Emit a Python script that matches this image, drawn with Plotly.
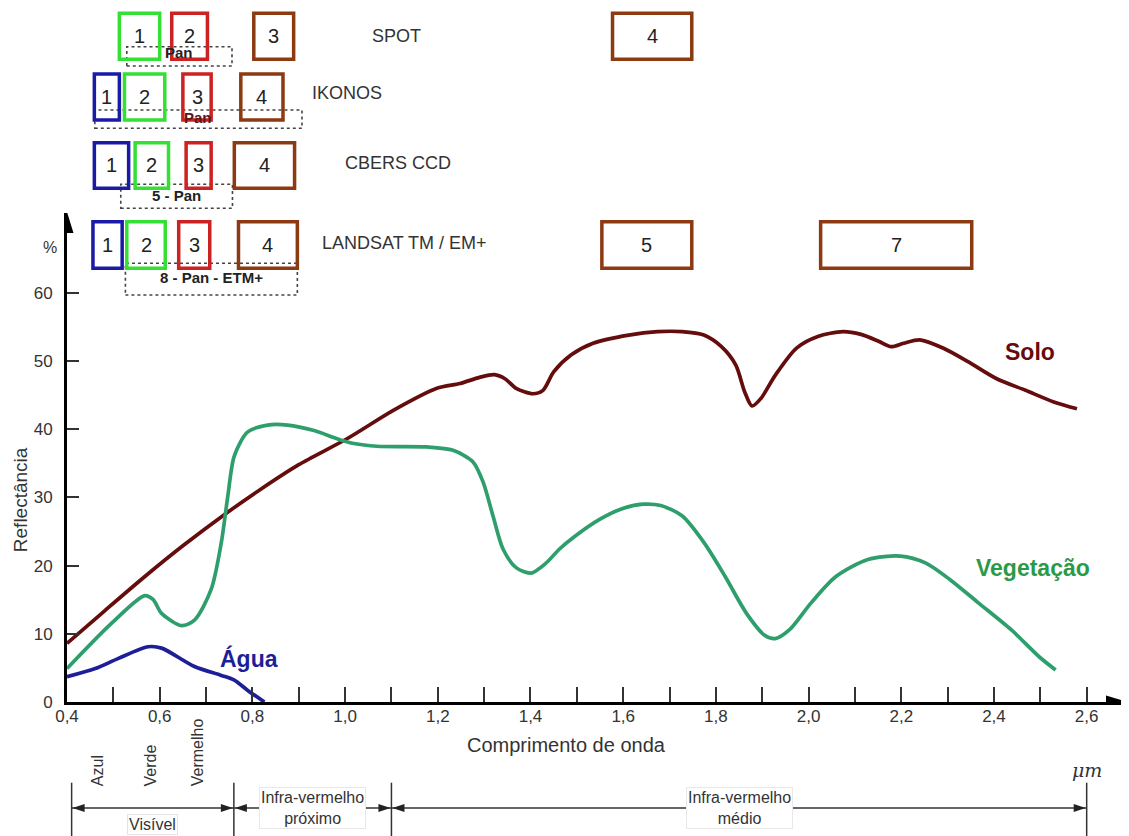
import plotly.graph_objects as go

# ---------------- data ----------------
SOLO_WL = [0.40, 0.48, 0.568, 0.65, 0.74, 0.818, 0.90, 1.004, 1.105, 1.198, 1.248, 1.29, 1.322, 1.345,
           1.369, 1.405, 1.427, 1.45, 1.488, 1.535, 1.612, 1.674, 1.727, 1.774, 1.812, 1.843, 1.862,
           1.878, 1.897, 1.928, 1.974, 2.02, 2.074, 2.113, 2.151, 2.178, 2.205, 2.24, 2.29, 2.344,
           2.406, 2.468, 2.529, 2.579]
SOLO_R = [8.6, 13.3, 18.4, 22.9, 27.5, 31.2, 34.8, 38.6, 42.8, 46.0, 46.7, 47.6, 48.0, 47.4,
          46.0, 45.2, 45.7, 48.4, 50.9, 52.6, 53.8, 54.3, 54.3, 53.8, 52.1, 49.4, 45.5,
          43.4, 44.5, 47.9, 51.9, 53.6, 54.3, 53.9, 52.9, 52.1, 52.6, 53.1, 51.9, 49.9,
          47.4, 45.7, 44.0, 43.0]

VEG_WL = [0.40, 0.497, 0.568, 0.586, 0.604, 0.647, 0.675, 0.711, 0.733, 0.747, 0.761, 0.79, 0.833,
          0.876, 0.933, 0.983, 1.019, 1.069, 1.176, 1.233, 1.276, 1.298, 1.319, 1.341, 1.369, 1.401,
          1.434, 1.462, 1.496, 1.55, 1.596, 1.643, 1.681, 1.727, 1.774, 1.82, 1.866, 1.905, 1.928,
          1.959, 2.005, 2.059, 2.128, 2.198, 2.252, 2.306, 2.367, 2.437, 2.498, 2.533]
VEG_R = [4.9, 11.6, 15.6, 15.0, 13.0, 11.2, 12.0, 16.5, 23.4, 30.2, 36.1, 39.6, 40.6,
         40.6, 39.8, 38.6, 37.9, 37.5, 37.4, 36.9, 35.2, 32.2, 27.3, 22.4, 19.7, 18.9,
         20.4, 22.4, 24.3, 26.8, 28.3, 29.0, 28.8, 27.3, 23.4, 18.4, 13.0, 9.8, 9.3,
         10.6, 14.5, 18.4, 20.9, 21.4, 20.4, 17.9, 14.5, 10.6, 6.6, 4.7]

AGUA_WL = [0.40, 0.461, 0.511, 0.575, 0.604, 0.675, 0.733, 0.761, 0.79, 0.826]
AGUA_R = [3.7, 4.9, 6.4, 8.1, 7.9, 5.2, 3.9, 3.2, 1.7, 0.0]

Y_TICKS = [0, 10, 20, 30, 40, 50, 60]

# sensor bands (wavelength ranges in micrometres)
SENSORS = ["SPOT", "IKONOS", "CBERS CCD", "LANDSAT TM / EM+"]
SPOT_BANDS = ["1", "2", "3", "4"]
SPOT_START = [0.513, 0.626, 0.803, 1.577]
SPOT_END = [0.600, 0.703, 0.889, 1.748]
SPOT_PAN = [0.529, 0.756]
SPOT_PAN_LABEL = "Pan"

IKONOS_BANDS = ["1", "2", "3", "4"]
IKONOS_START = [0.459, 0.524, 0.650, 0.775]
IKONOS_END = [0.513, 0.611, 0.711, 0.866]
IKONOS_PAN = [0.460, 0.907]
IKONOS_PAN_LABEL = "Pan"

CBERS_BANDS = ["1", "2", "3", "4"]
CBERS_START = [0.459, 0.547, 0.657, 0.761]
CBERS_END = [0.533, 0.619, 0.711, 0.891]
CBERS_PAN = [0.516, 0.757]
CBERS_PAN_LABEL = "5 - Pan"

LANDSAT_BANDS = ["1", "2", "3", "4", "5", "7"]
LANDSAT_START = [0.456, 0.529, 0.641, 0.770, 1.554, 2.026]
LANDSAT_END = [0.519, 0.612, 0.708, 0.897, 1.748, 2.352]
LANDSAT_PAN = [0.526, 0.897]
LANDSAT_PAN_LABEL = "8 - Pan - ETM+"

# spectral regions
REGION_EDGES = [0.41, 0.76, 1.10, 2.60]
REGION_NAMES = ["Visível", "Infra-vermelho<br>próximo", "Infra-vermelho<br>médio"]
VIS_NAMES = ["Azul", "Verde", "Vermelho"]
VIS_POS = [0.466, 0.58, 0.681]

# ---------------- styles ----------------
FONT = "Arial, 'Liberation Sans', sans-serif"
C_SOLO = "#650c0c"
C_VEG = "#2e9e6c"
C_VEG_TXT = "#2a9a48"
C_AGUA = "#1c1f98"
C_BLUE = "#1a1aa6"
C_GREEN = "#33e033"
C_RED = "#cc2222"
C_BROWN = "#8b3a12"
TXT = "#333333"

SPOT_COLORS = [C_GREEN, C_RED, C_BROWN, C_BROWN]
IKONOS_COLORS = [C_BLUE, C_GREEN, C_RED, C_BROWN]
CBERS_COLORS = [C_BLUE, C_GREEN, C_RED, C_BROWN]
LANDSAT_COLORS = [C_BLUE, C_GREEN, C_RED, C_BROWN, C_BROWN, C_BROWN]

# layout rows (paper coordinates)
ROWS = [
    dict(box=(1.3143, 1.4084), pan=(1.3006, 1.3401), pan_txt=1.3272, lab=(0.311, 1.362, "center"), pan_col="#2a2020"),
    dict(box=(1.1902, 1.2843), pan=(1.1732, 1.2106), pan_txt=1.1957, lab=(0.264, 1.246, "center"), pan_col="#5a1818"),
    dict(box=(1.0505, 1.1438), pan=(1.0096, 1.0587), pan_txt=1.0368, lab=(0.3125, 1.1016, "center"), pan_col="#222222"),
    dict(box=(0.8869, 0.9822), pan=(0.8323, 0.8971), pan_txt=0.8685, lab=(0.2387, 0.9387, "left"), pan_col="#222222"),
]
ROW_DATA = [
    (SPOT_BANDS, SPOT_START, SPOT_END, SPOT_COLORS, SPOT_PAN, SPOT_PAN_LABEL),
    (IKONOS_BANDS, IKONOS_START, IKONOS_END, IKONOS_COLORS, IKONOS_PAN, IKONOS_PAN_LABEL),
    (CBERS_BANDS, CBERS_START, CBERS_END, CBERS_COLORS, CBERS_PAN, CBERS_PAN_LABEL),
    (LANDSAT_BANDS, LANDSAT_START, LANDSAT_END, LANDSAT_COLORS, LANDSAT_PAN, LANDSAT_PAN_LABEL),
]

X_MAX = 2.687
Y_MAX = 71.7

fig = go.Figure()
for wl, r, col in [(SOLO_WL, SOLO_R, C_SOLO), (VEG_WL, VEG_R, C_VEG), (AGUA_WL, AGUA_R, C_AGUA)]:
    fig.add_trace(go.Scatter(x=wl, y=r, mode="lines", hoverinfo="skip",
                             line=dict(color=col, width=3.7, shape="spline", smoothing=0.8)))

shapes = []
annots = []


def note(**kw):
    kw.setdefault("showarrow", False)
    kw.setdefault("xanchor", "center")
    kw.setdefault("yanchor", "middle")
    annots.append(kw)


# sensor rows
for (bands, st, en, cols, pan, pan_lab), row in zip(ROW_DATA, ROWS):
    y0, y1 = row["box"]
    shapes.append(dict(type="rect", xref="x", yref="paper", x0=pan[0], x1=pan[1],
                       y0=row["pan"][0], y1=row["pan"][1],
                       line=dict(color="#444", width=1.6, dash="dot"), layer="above"))
    for b, s, e, c in zip(bands, st, en, cols):
        shapes.append(dict(type="rect", xref="x", yref="paper", x0=s, x1=e, y0=y0, y1=y1,
                           line=dict(color=c, width=3.5), layer="above"))
        note(x=(s + e) / 2, y=(y0 + y1) / 2, xref="x", yref="paper", text=b,
             font=dict(size=20, color="#222", family=FONT))
    note(x=(pan[0] + pan[1]) / 2, y=row["pan_txt"], xref="x", yref="paper",
         text="<b>%s</b>" % pan_lab, font=dict(size=15, color=row["pan_col"], family=FONT))

for name, row in zip(SENSORS, ROWS):
    lx, ly, anc = row["lab"]
    note(x=lx, y=ly, xref="paper", yref="paper", text=name, xanchor=anc,
         font=dict(size=18, color=TXT, family=FONT))

# axis arrowheads
shapes.append(dict(type="path", xref="x", yref="y", xsizemode="pixel", ysizemode="pixel",
                   xanchor=X_MAX, yanchor=0, path="M 1,0 L -21,6.5 L -21,-6.5 Z",
                   fillcolor="black", line=dict(width=0)))
shapes.append(dict(type="path", xref="x", yref="y", xsizemode="pixel", ysizemode="pixel",
                   xanchor=0.4, yanchor=Y_MAX, path="M 0,1 L -6.5,-20 L 6.5,-20 Z",
                   fillcolor="black", line=dict(width=0)))

# curve labels
note(x=2.478, y=51.3, xref="x", yref="y", text="<b>Solo</b>", font=dict(size=23, color=C_SOLO, family=FONT))
note(x=2.485, y=19.6, xref="x", yref="y", text="<b>Vegetação</b>", font=dict(size=23, color=C_VEG_TXT, family=FONT))
note(x=0.793, y=6.4, xref="x", yref="y", text="<b>Água</b>", font=dict(size=23, color=C_AGUA, family=FONT))

# axis titles and units
note(x=-0.0443, y=29.6, xref="paper", yref="y", text="Reflectância", textangle=-90,
     font=dict(size=19, color=TXT, family=FONT))
note(x=-0.016, y=66.7, xref="paper", yref="y", text="%", font=dict(size=16, color=TXT, family=FONT))
note(x=1.477, y=-0.088, xref="x", yref="paper", text="Comprimento de onda",
     font=dict(size=20, color=TXT, family=FONT))
note(x=2.60, y=-0.139, xref="x", yref="paper", text="<i>μm</i>",
     font=dict(size=19, color=TXT, family="'DejaVu Serif', 'Liberation Serif', serif"))

# spectral region brackets
ARROW_Y = -0.2168
for xe in REGION_EDGES:
    shapes.append(dict(type="line", xref="x", yref="paper", x0=xe, x1=xe, y0=-0.165, y1=-0.28,
                       line=dict(color="#333", width=1.5)))
for i in range(3):
    a, b = REGION_EDGES[i], REGION_EDGES[i + 1]
    shapes.append(dict(type="line", xref="x", yref="paper", x0=a, x1=b, y0=ARROW_Y, y1=ARROW_Y,
                       line=dict(color="#333", width=1.3)))
    shapes.append(dict(type="path", xref="x", yref="paper", xsizemode="pixel", ysizemode="pixel",
                       xanchor=a, yanchor=ARROW_Y, path="M 1,0 L 13,4 L 13,-4 Z",
                       fillcolor="#222", line=dict(width=0)))
    shapes.append(dict(type="path", xref="x", yref="paper", xsizemode="pixel", ysizemode="pixel",
                       xanchor=b, yanchor=ARROW_Y, path="M -1,0 L -13,4 L -13,-4 Z",
                       fillcolor="#222", line=dict(width=0)))
mid = [(REGION_EDGES[i] + REGION_EDGES[i + 1]) / 2 for i in range(3)]
note(x=mid[0], y=-0.25, xref="x", yref="paper", text=REGION_NAMES[0],
     bgcolor="white", bordercolor="#e4e4e4", borderwidth=1, borderpad=1,
     font=dict(size=16, color=TXT, family=FONT))
for i in (1, 2):
    note(x=mid[i], y=ARROW_Y, xref="x", yref="paper", text=REGION_NAMES[i],
         bgcolor="white", bordercolor="#e8e8e8", borderwidth=1, borderpad=1,
         font=dict(size=16, color=TXT, family=FONT))
for name, xp in zip(VIS_NAMES, VIS_POS):
    note(x=xp, y=-0.176, xref="x", yref="paper", text=name, textangle=-90, yanchor="bottom",
         font=dict(size=16, color=TXT, family=FONT))

# the page body has an 8px margin: the figure is sized so that it fills the window from there
fig.update_layout(
    width=1121, height=828, margin=dict(l=59, r=2, t=205, b=134, autoexpand=False),
    plot_bgcolor="white", paper_bgcolor="white", showlegend=False, separators=",.",
    font=dict(family=FONT, color=TXT), shapes=shapes, annotations=annots,
)
fig.update_xaxes(range=[0.4, X_MAX], showline=True, linecolor="black", linewidth=3, showgrid=False,
                 zeroline=False, automargin=False, ticks="inside", ticklen=15, tickwidth=1.5,
                 tickcolor="#333", tick0=0.4, dtick=0.2, tickformat=".1f",
                 tickfont=dict(size=17, color=TXT), ticklabelstandoff=-3,
                 minor=dict(dtick=0.1, tick0=0.4, ticks="inside", ticklen=15, tickwidth=1.5,
                            tickcolor="#333", showgrid=False))
fig.update_yaxes(range=[0, Y_MAX], showline=True, linecolor="black", linewidth=3, showgrid=False,
                 zeroline=False, automargin=False, ticks="inside", ticklen=12, tickwidth=1.5,
                 tickcolor="#333", tickvals=Y_TICKS, tickfont=dict(size=17, color=TXT),
                 ticklabelstandoff=8)

fig.write_html("out.html", config={"displayModeBar": False})
